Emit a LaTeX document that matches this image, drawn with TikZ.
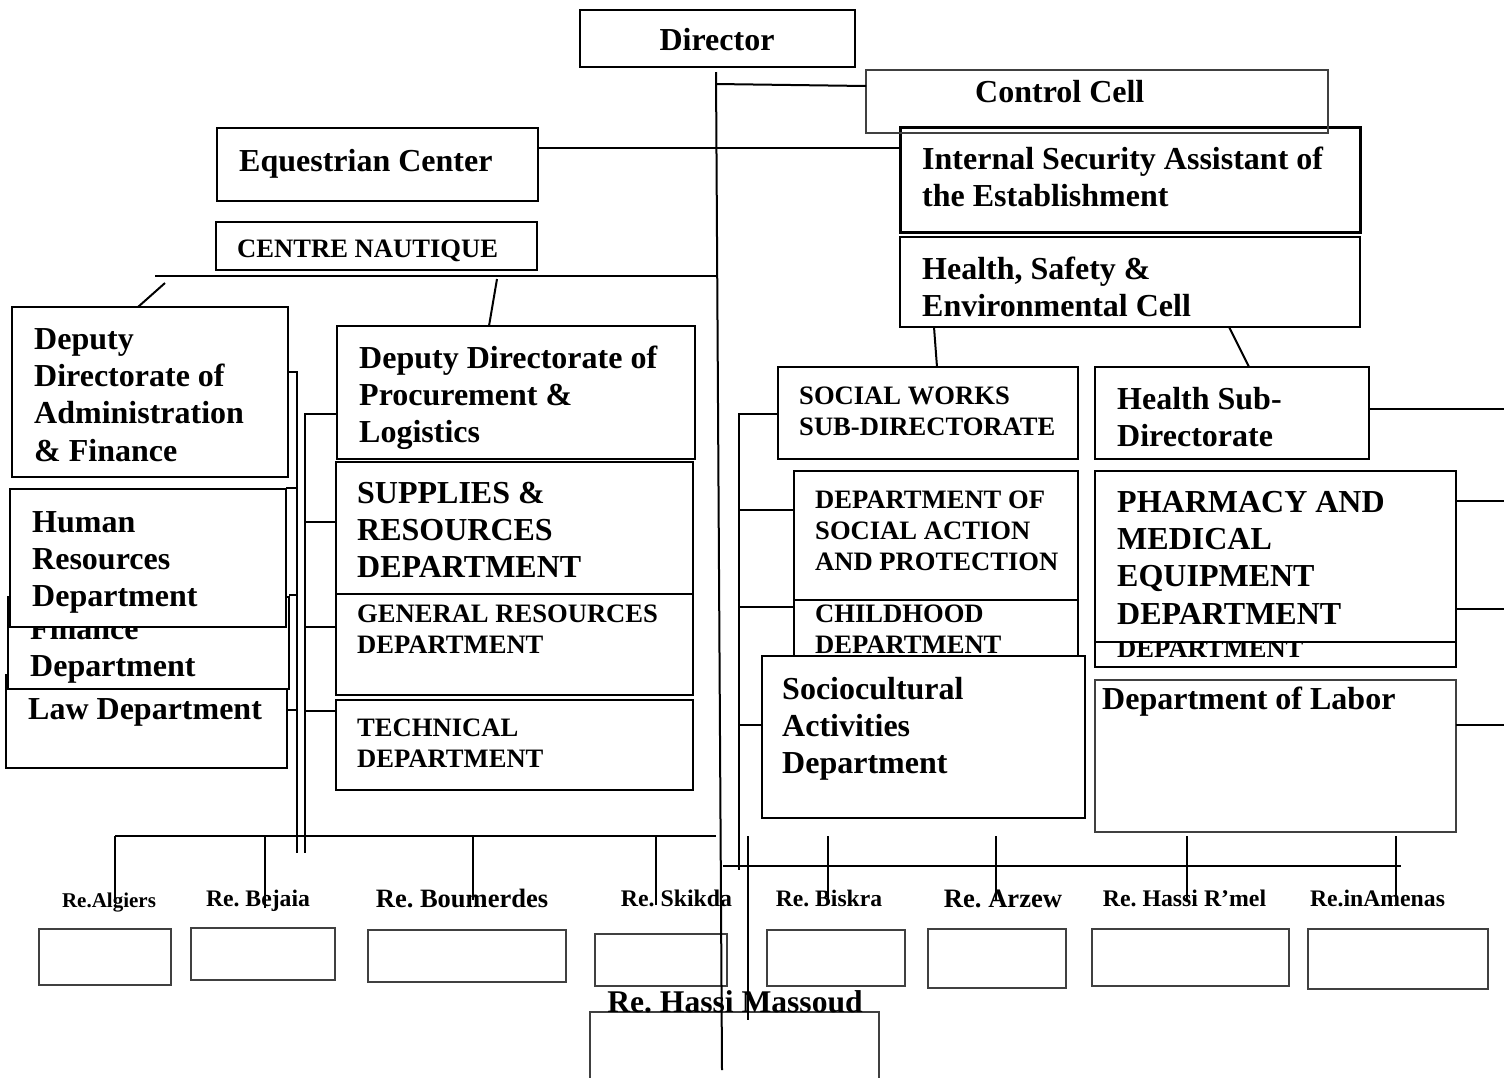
\documentclass[tikz,border=0pt]{standalone}
\usepackage{fontspec}
\setmainfont{Liberation Serif}
\frenchspacing
\newcommand{\orgbox}[6]{\node[#1, anchor=north west, minimum width={(#5-#3)*1pt}, minimum height={(#6-#4)*1pt}] (#2) at (#3,#4) {};}
\begin{document}
\frenchspacing
\begin{tikzpicture}[x=1pt,y=-1pt,
  box/.style={draw, fill=white, line width=2.2pt, inner sep=0pt, outer sep=0pt},
  thickbox/.style={box, line width=3pt},
  thinbox/.style={draw=black!75, fill=white, line width=1.2pt, inner sep=0pt, outer sep=0pt},
  bigt/.style={font=\fontsize{32}{37.4}\selectfont\bfseries, align=left, anchor=north west, inner sep=0pt},
  smallt/.style={font=\fontsize{26.6}{31}\selectfont\bfseries, align=left, anchor=north west, inner sep=0pt},
  lbl/.style={anchor=base, inner sep=0pt},
  conn/.style={line width=2pt},
  thinconn/.style={line width=1.5pt}
]
\fill[white] (0,0) rectangle (1504,1077);
\useasboundingbox (0,0) rectangle (1504,1077);

% top
\orgbox{box}{dir}{580}{10}{855}{67}
\node[lbl, font=\fontsize{32}{37}\selectfont\bfseries] (tdir) at (717,50.6) {Director};
\orgbox{thickbox}{isa}{900}{127}{1360}{232}
\node[bigt] (tisa) at (922,142.7) {\strut Internal Security Assistant of\\the Establishment};
\orgbox{thinbox, fill=none}{ctl}{866}{70}{1328}{133}
\node[bigt] (tctl) at (975,75.7) {\strut Control Cell};
\orgbox{box}{eq}{217}{128}{538}{201}
\node[bigt] (teq) at (239,144.7) {\strut Equestrian Center};
\orgbox{box, line width=2pt}{cn}{216}{222}{537}{270}
\node[smallt] (tcn) at (237,235.1) {\strut CENTRE NAUTIQUE};
\orgbox{box}{hse}{900}{237}{1360}{327}
\node[bigt] (thse) at (922,252.7) {\strut Health, Safety \&\\Environmental Cell};

% left column
\orgbox{box, line width=2pt}{law}{6}{675}{287}{768}
\node[bigt] (tlaw) at (28,692.7) {\strut Law Department};
\orgbox{box}{fin}{8}{597}{289}{689}
\node[bigt] (tfin) at (30,612.7) {\strut Finance\\Department};
\orgbox{box}{hr}{10}{489}{286}{627}
\node[bigt] (thr) at (32,505.7) {\strut Human\\Resources\\Department};
\orgbox{box}{ddaf}{12}{307}{288}{477}
\node[bigt] (tddaf) at (34,322.7) {\strut Deputy\\Directorate of\\Administration\\\& Finance};

% procurement column
\orgbox{box}{ddpl}{337}{326}{695}{459}
\node[bigt] (tddpl) at (359,341.7) {\strut Deputy Directorate of\\Procurement \&\\Logistics};
\orgbox{box}{sup}{336}{462}{693}{595}
\node[bigt] (tsup) at (357,476.7) {\strut SUPPLIES \&\\RESOURCES\\DEPARTMENT};
\orgbox{box, line width=2pt}{gen}{336}{594}{693}{695}
\node[smallt] (tgen) at (357,600.1) {\strut GENERAL RESOURCES\\DEPARTMENT};
\orgbox{box}{tech}{336}{700}{693}{790}
\node[smallt] (ttech) at (357,714.1) {\strut TECHNICAL\\DEPARTMENT};

% social column
\orgbox{box, line width=2pt}{sw}{778}{367}{1078}{459}
\node[smallt] (tsw) at (799,382.1) {\strut SOCIAL WORKS\\SUB-DIRECTORATE};
\orgbox{box}{sap}{794}{471}{1078}{600}
\node[smallt] (tsap) at (815,486.1) {\strut DEPARTMENT OF\\SOCIAL ACTION\\AND PROTECTION};
\orgbox{box, line width=2pt}{chd}{794}{600}{1078}{700}
\node[smallt] (tchd) at (815,600.1) {\strut CHILDHOOD\\DEPARTMENT};
\orgbox{box}{soc}{762}{656}{1085}{818}
\node[bigt] (tsoc) at (782,672.7) {\strut Sociocultural\\Activities\\Department};

% health column
\orgbox{box}{hsub}{1095}{367}{1369}{459}
\node[bigt] (thsub) at (1117,382.7) {\strut Health Sub-\\Directorate};
\orgbox{box}{hid}{1095}{560}{1456}{667}
\node[smallt] (thid) at (1117,635.1) {\strut DEPARTMENT};
\orgbox{box}{pha}{1095}{471}{1456}{642}
\node[bigt] (tpha) at (1117,485.7) {\strut PHARMACY AND\\MEDICAL\\EQUIPMENT\\DEPARTMENT};
\orgbox{thinbox}{lab}{1095}{680}{1456}{832}
\node[bigt] (tlab) at (1102,682.7) {\strut Department of Labor};

% regional boxes
\orgbox{thinbox}{balg}{39}{929}{171}{985}
\orgbox{thinbox}{bbej}{191}{928}{335}{980}
\orgbox{thinbox}{bbou}{368}{930}{566}{982}
\orgbox{thinbox}{bski}{595}{934}{727}{986}
\orgbox{thinbox}{bbis}{767}{930}{905}{986}
\orgbox{thinbox}{barz}{928}{929}{1066}{988}
\orgbox{thinbox}{bhrm}{1092}{929}{1289}{986}
\orgbox{thinbox}{bina}{1308}{929}{1488}{989}
\orgbox{thinbox}{bhm}{590}{1012}{879}{1080}

\node[lbl, font=\fontsize{21}{24}\selectfont\bfseries] (lalg) at (109,907) {Re.Algiers};
\node[lbl, font=\fontsize{23.7}{27}\selectfont\bfseries] (lbej) at (258,906) {Re. Bejaia};
\node[lbl, font=\fontsize{26.5}{30}\selectfont\bfseries] (lbou) at (462,907) {Re. Boumerdes};
\node[lbl, font=\fontsize{23.8}{27}\selectfont\bfseries] (lski) at (676.5,906) {Re. Skikda};
\node[lbl, font=\fontsize{23.6}{27}\selectfont\bfseries] (lbis) at (829,906) {Re. Biskra};
\node[lbl, font=\fontsize{26.6}{30}\selectfont\bfseries] (larz) at (1003,907) {Re. Arzew};
\node[lbl, font=\fontsize{23.8}{27}\selectfont\bfseries] (lhrm) at (1184.5,906) {Re. Hassi R’mel};
\node[lbl, font=\fontsize{23.7}{27}\selectfont\bfseries] (lina) at (1377.5,906) {Re.inAmenas};
\node[lbl, font=\fontsize{31.6}{36}\selectfont\bfseries] (lhm) at (735,1012.4) {Re. Hassi Massoud};

% connectors
\coordinate (trT) at (716,72);
\coordinate (trB) at (722,1070);
\draw[conn] (trT) -- (trB);
\draw[conn] (716,84) -- (ctl.west |- 0,86);
\draw[conn] (eq.east |- 0,148) -- (isa.west |- 0,148);
\coordinate (busL) at (155,276);
\coordinate (busR) at (716,276);
\draw[conn] (busL) -- (busR);
\draw[conn] (165,283) -- (ddaf.north -| 138,0);
\draw[conn] (497,279) -- (ddpl.north -| 489,0);
\draw[conn] (hse.south -| 934,0) -- (sw.north -| 937,0);
\draw[conn] (hse.south -| 1229,0) -- (hsub.north -| 1249,0);
\draw[conn] (hsub.east |- 0,409) -- (1504,409);
\draw[conn] (pha.east |- 0,501) -- (1504,501);
\draw[conn] (pha.east |- 0,609) -- (1504,609);
\draw[conn] (lab.east |- 0,725) -- (1504,725);

% left double bus
\draw[thinconn] (ddaf.east |- 0,372) -| (297,853);
\draw[thinconn] (hr.east |- 0,488) -- (297,488);
\draw[thinconn] (fin.east |- 0,595) -- (297,595);
\draw[thinconn] (law.east |- 0,710) -- (297,710);
\draw[conn] (ddpl.west |- 0,414) -| (305,853);
\draw[conn] (sup.west |- 0,522) -- (305,522);
\draw[conn] (gen.west |- 0,627) -- (305,627);
\draw[conn] (tech.west |- 0,711) -- (305,711);

% social bus
\draw[conn] (sw.west |- 0,414) -| (739,870);
\draw[conn] (sap.west |- 0,510) -- (739,510);
\draw[conn] (chd.west |- 0,607) -- (739,607);
\draw[conn] (soc.west |- 0,725) -- (739,725);

% bottom buses
\draw[conn] (115,836) -- (716,836);
\draw[thinconn] (115,836) -- (115,903);
\draw[thinconn] (265,836) -- (265,908);
\draw[thinconn] (473,836) -- (473,900);
\draw[thinconn] (656,836) -- (656,905);
\draw[conn] (723,866) -- (1401,866);
\draw[thinconn] (828,836) -- (828,900);
\draw[thinconn] (996,836) -- (996,900);
\draw[thinconn] (1187,836) -- (1187,900);
\draw[thinconn] (1396,836) -- (1396,900);
\draw[thinconn] (748,836) -- (748,1020);
\end{tikzpicture}
\end{document}
